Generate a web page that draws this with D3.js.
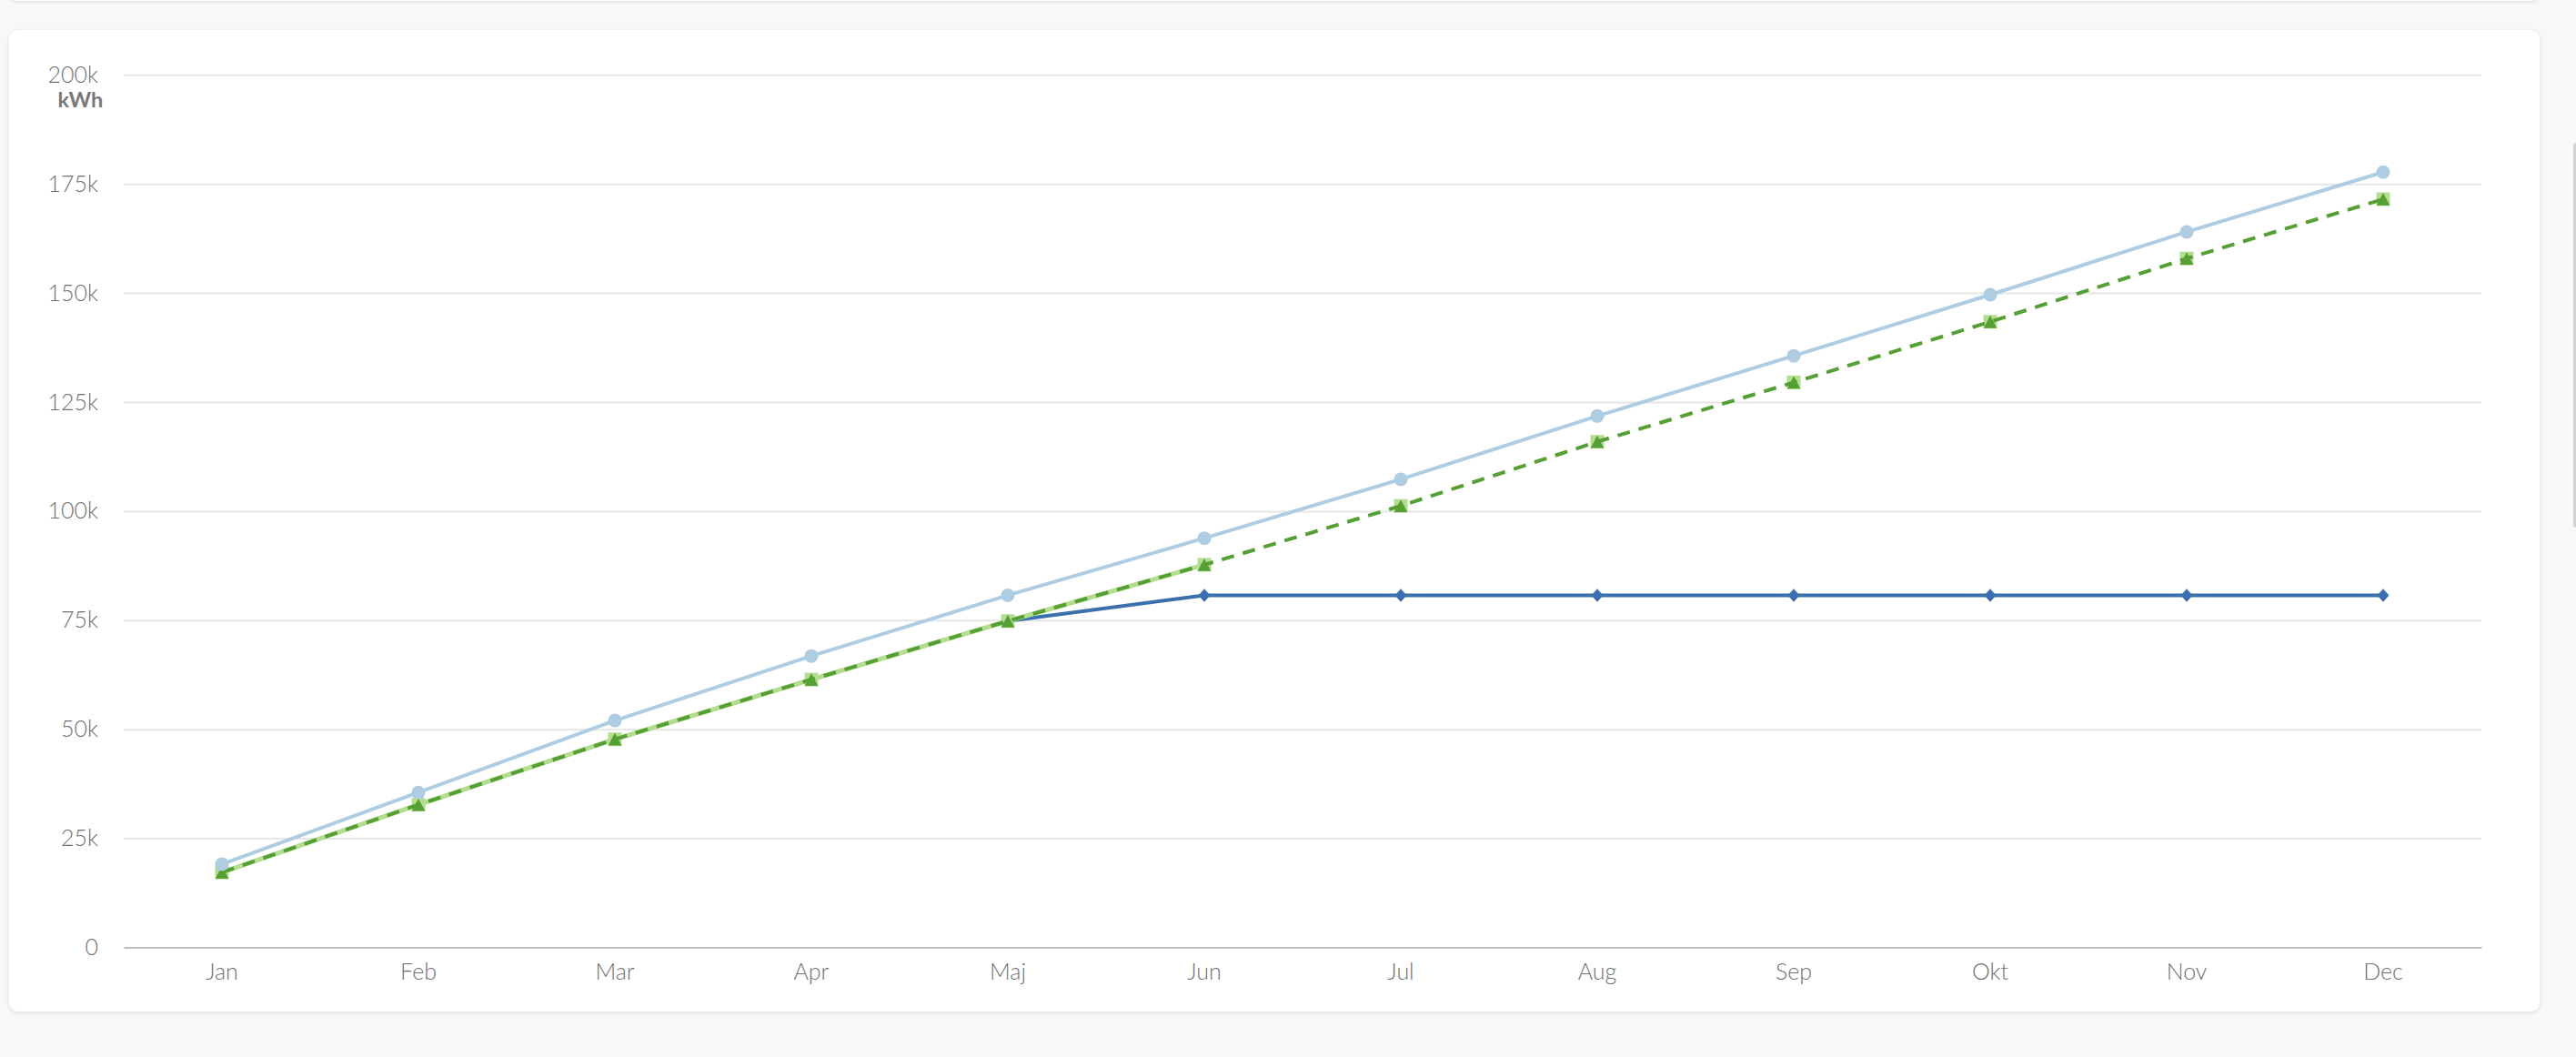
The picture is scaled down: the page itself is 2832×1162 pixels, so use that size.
<!DOCTYPE html>
<html><head><meta charset="utf-8">
<script src="https://cdn.jsdelivr.net/npm/d3@7"></script>
<style>
html,body{margin:0;padding:0;background:#f8f8f8;width:2832px;height:1162px;overflow:hidden;}
.card{position:absolute;background:#fff;border-radius:9px;box-shadow:0 1px 4px rgba(0,0,0,0.13);}
svg{position:absolute;left:0;top:0;}
text{font-family:Lato,"Open Sans","Noto Sans",sans-serif;}
</style></head><body>
<div class="card" style="left:10px;top:-40px;width:2782px;height:41px"></div>
<div class="card" style="left:10px;top:33px;width:2782px;height:1079px"></div>
<div style="position:absolute;left:2829px;top:157px;width:4px;height:423px;background:#d2d2d2;border-radius:3px 0 0 3px"></div>
<svg id="chart" width="2832" height="1162"></svg>
<script>
// ---- data ----
const months = ["Jan","Feb","Mar","Apr","Maj","Jun","Jul","Aug","Sep","Okt","Nov","Dec"];
const yTicks = [0,25000,50000,75000,100000,125000,150000,175000,200000];
const unitLabel = "kWh";
// light blue, circles
const lightBlueValues = [19100,35500,52000,66800,80700,93800,107300,121800,135600,149600,164000,177700];
// dark blue, diamonds
const darkBlueValues = [17200,32700,47700,61400,74800,80700,80700,80700,80700,80700,80700,80700];
// light green, squares (line only where drawn)
const lightGreenValues = [17200,32700,47700,61400,74800,87700,101200,115900,129500,143400,157900,171500];
const lightGreenLineValues = [17200,32700,47700,61400,74800,87700,null,null,null,null,null,null];
// dark green dashed, triangles
const darkGreenValues = [17200,32700,47700,61400,74800,87700,101200,115900,129500,143400,157900,171500];

// ---- chart ----
const L = 136, R = 2728, T = 82.3, B = 1041.5;
const svg = d3.select("#chart");
const x = d3.scaleBand().domain(months).range([L, R]);
const cx = m => x(m) + x.bandwidth() / 2;
const y = d3.scaleLinear().domain([0, 200000]).range([B, T]);

// y axis + grid
const gy = svg.append("g").attr("transform", `translate(${L},0)`)
  .call(d3.axisLeft(y).tickValues(yTicks)
    .tickFormat(d => d === 0 ? "0" : (d / 1000) + "k")
    .tickSize(-(R - L)).tickPadding(28));
gy.select(".domain").remove();
gy.selectAll(".tick line").attr("stroke", "#e6e6e6").attr("stroke-width", 2)
  .filter(d => d === 0).remove();
gy.selectAll(".tick text").attr("fill", "#707070").style("font-size", "25px").style("font-weight", 300);

svg.append("text").attr("x", 88.5).attr("y", 117.5).attr("text-anchor", "middle")
  .attr("fill", "#777").style("font-size", "23.5px").style("font-weight", 700).text(unitLabel);

// x axis
const gx = svg.append("g").attr("transform", `translate(0,${B})`)
  .call(d3.axisBottom(x).tickSize(0).tickPadding(18));
gx.select(".domain").attr("stroke", "#bdbdbd").attr("stroke-width", 2);
gx.selectAll(".tick text").attr("fill", "#707070").style("font-size", "25px").style("font-weight", 300);

// custom symbols
const triangleType = { draw(ctx, size) { const w = Math.sqrt(size) / 2, h = Math.sqrt(size) / 2 * 0.95;
  ctx.moveTo(0, -h); ctx.lineTo(w, h); ctx.lineTo(-w, h); ctx.closePath(); } };
const diamondType = { draw(ctx, size) { const w = Math.sqrt(size) / 2 * 0.9, h = Math.sqrt(size) / 2;
  ctx.moveTo(0, -h); ctx.lineTo(w, 0); ctx.lineTo(0, h); ctx.lineTo(-w, 0); ctx.closePath(); } };

function series(values, opts) {
  const g = svg.append("g");
  const line = d3.line().defined(d => d != null).x((d, i) => cx(months[i])).y(d => y(d));
  g.append("path").datum(opts.lineValues || values).attr("d", line)
    .attr("fill", "none").attr("stroke", opts.lineColor || opts.color)
    .attr("stroke-width", opts.width).attr("stroke-dasharray", opts.dash || null)
    .attr("stroke-linejoin", "round");
  if (opts.symbol) {
    g.selectAll("path.m").data(values).join("path").attr("class", "m")
      .attr("transform", (d, i) => `translate(${cx(months[i])},${y(d)})`)
      .attr("d", d3.symbol().type(opts.symbol).size(opts.size))
      .attr("fill", opts.markerColor || opts.color);
  }
}

series(darkBlueValues, { color: "#3a70ae", width: 4, symbol: diamondType, size: 14.4 * 14.4 });
series(lightGreenValues, { color: "#b5dd90", width: 5, lineValues: lightGreenLineValues, symbol: d3.symbolSquare, size: 15 * 15 });
series(darkGreenValues, { color: "#55a032", width: 4, dash: "14,10", symbol: triangleType, size: 14.5 * 14.5 });
series(lightBlueValues, { color: "#aecde2", width: 4, symbol: d3.symbolCircle, size: Math.PI * 7.5 * 7.5 });
</script>
</body></html>
